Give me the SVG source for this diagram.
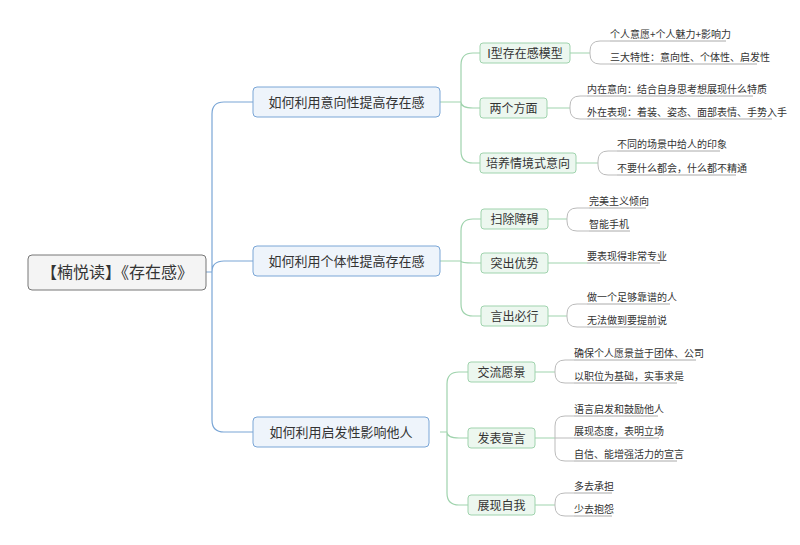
<svg xmlns="http://www.w3.org/2000/svg" width="800" height="545" viewBox="0 0 800 545">
<style>
text{font-family:"Noto Sans CJK SC","Liberation Sans",sans-serif;fill:#333}
.root rect{fill:#f4f4f4;stroke:#777;stroke-width:1}
.main rect{fill:#eef4fb;stroke:#7aa6d6;stroke-width:1}
.sub rect{fill:#ecf7ef;stroke:#9fd3ad;stroke-width:1}
.leaf line{stroke:#aaa;stroke-width:1}
.leaf text{font-size:10px}
.sub text{font-size:12px}
.main text{font-size:13px}
.c1{fill:none;stroke:#7aa6d6;stroke-width:1.2}
.c2{fill:none;stroke:#9fd3ad;stroke-width:1.2}
.c3{fill:none;stroke:#bbb;stroke-width:1}
</style>
<rect width="800" height="545" fill="#fff"/>
<g id="connectors">
<path class="c1" d="M206 272H212M212 272V114Q212 102 224 102H253M212 272Q212 261 224 261H253M212 272V420Q212 432 224 432H253"/>
<path class="c2" d="M440 102H461M461 102V65Q461 53 473 53H480M461 102Q461 108 473 108H480M461 102V151Q461 163 473 163H480"/>
<path class="c2" d="M440 261H461M461 261V231Q461 219 473 219H481M461 261Q461 263 473 263H481M461 261V304Q461 316 473 316H481"/>
<path class="c2" d="M440 432H447M447 432V384Q447 372 459 372H468M447 432Q447 438 459 438H468M447 432V493Q447 505 459 505H468"/>
<path class="c2" d="M570 53H590M547 108H570M576 163H598M548 219H567M548 263H587M548 316H567M535 372H555M535 438H555M535 505H555"/>
<path class="c3" d="M590 53V51Q590 41 600 41H610M590 53V54Q590 64 600 64H610"/>
<path class="c3" d="M570 108V106Q570 96 580 96H587M570 108V109Q570 119 580 119H587"/>
<path class="c3" d="M598 163V161Q598 151 608 151H617M598 163V165Q598 175 608 175H617"/>
<path class="c3" d="M567 219V218Q567 208 577 208H589M567 219V221Q567 231 577 231H589"/>
<path class="c3" d="M567 316V314Q567 304 577 304H587M567 316V317Q567 327 577 327H587"/>
<path class="c3" d="M555 372V370Q555 360 565 360H574M555 372V373Q555 383 565 383H574"/>
<path class="c3" d="M555 438V426Q555 416 565 416H574M555 438H574M555 438V451Q555 461 565 461H574"/>
<path class="c3" d="M555 505V503Q555 493 565 493H574M555 505V506Q555 516 565 516H574"/>
</g>
<g id="root" class="root"><rect x="28" y="255" width="178" height="35" rx="4"/><text x="117" y="278" font-size="16" text-anchor="middle">【楠悦读】《存在感》</text></g>
<g id="m1" class="main"><rect x="253" y="87" width="187" height="30" rx="4"/><text x="346.5" y="107" text-anchor="middle">如何利用意向性提高存在感</text></g>
<g id="m2" class="main"><rect x="253" y="246" width="187" height="30" rx="4"/><text x="346.5" y="266" text-anchor="middle">如何利用个体性提高存在感</text></g>
<g id="m3" class="main"><rect x="253" y="417" width="176" height="30" rx="4"/><text x="341" y="437" text-anchor="middle">如何利用启发性影响他人</text></g>
<g id="s11" class="sub"><rect x="480" y="43" width="90" height="20" rx="3"/><text x="525" y="57.5" text-anchor="middle">I型存在感模型</text></g>
<g id="s12" class="sub"><rect x="480" y="98" width="67" height="20" rx="3"/><text x="513.5" y="112.5" text-anchor="middle">两个方面</text></g>
<g id="s13" class="sub"><rect x="480" y="153" width="96" height="20" rx="3"/><text x="528" y="167.5" text-anchor="middle">培养情境式意向</text></g>
<g id="s21" class="sub"><rect x="481" y="209" width="67" height="20" rx="3"/><text x="514.5" y="223.5" text-anchor="middle">扫除障碍</text></g>
<g id="s22" class="sub"><rect x="481" y="253" width="67" height="20" rx="3"/><text x="514.5" y="267.5" text-anchor="middle">突出优势</text></g>
<g id="s23" class="sub"><rect x="481" y="306" width="67" height="20" rx="3"/><text x="514.5" y="320.5" text-anchor="middle">言出必行</text></g>
<g id="s31" class="sub"><rect x="468" y="362" width="67" height="20" rx="3"/><text x="501.5" y="376.5" text-anchor="middle">交流愿景</text></g>
<g id="s32" class="sub"><rect x="468" y="428" width="67" height="20" rx="3"/><text x="501.5" y="442.5" text-anchor="middle">发表宣言</text></g>
<g id="s33" class="sub"><rect x="468" y="495" width="67" height="20" rx="3"/><text x="501.5" y="509.5" text-anchor="middle">展现自我</text></g>
<g id="l111" class="leaf"><text x="610" y="38">个人意愿+个人魅力+影响力</text><line x1="610" y1="41" x2="726" y2="41"/></g>
<g id="l112" class="leaf"><text x="610" y="61">三大特性：意向性、个体性、启发性</text><line x1="610" y1="64" x2="757" y2="64"/></g>
<g id="l121" class="leaf"><text x="587" y="93">内在意向：结合自身思考想展现什么特质</text><line x1="587" y1="96" x2="753" y2="96"/></g>
<g id="l122" class="leaf"><text x="587" y="116">外在表现：着装、姿态、面部表情、手势入手</text><line x1="587" y1="119" x2="772" y2="119"/></g>
<g id="l131" class="leaf"><text x="617" y="148">不同的场景中给人的印象</text><line x1="617" y1="151" x2="720" y2="151"/></g>
<g id="l132" class="leaf"><text x="617" y="172">不要什么都会，什么都不精通</text><line x1="617" y1="175" x2="736" y2="175"/></g>
<g id="l211" class="leaf"><text x="589" y="205">完美主义倾向</text><line x1="589" y1="208" x2="646" y2="208"/></g>
<g id="l212" class="leaf"><text x="589" y="228">智能手机</text><line x1="589" y1="231" x2="630" y2="231"/></g>
<g id="l221" class="leaf"><text x="587" y="260">要表现得非常专业</text><line x1="587" y1="263" x2="660" y2="263"/></g>
<g id="l231" class="leaf"><text x="587" y="301">做一个足够靠谱的人</text><line x1="587" y1="304" x2="670" y2="304"/></g>
<g id="l232" class="leaf"><text x="587" y="324">无法做到要提前说</text><line x1="587" y1="327" x2="660" y2="327"/></g>
<g id="l311" class="leaf"><text x="574" y="357">确保个人愿景益于团体、公司</text><line x1="574" y1="360" x2="696" y2="360"/></g>
<g id="l312" class="leaf"><text x="574" y="380">以职位为基础，实事求是</text><line x1="574" y1="383" x2="677" y2="383"/></g>
<g id="l321" class="leaf"><text x="574" y="413">语言启发和鼓励他人</text><line x1="574" y1="416" x2="658" y2="416"/></g>
<g id="l322" class="leaf"><text x="574" y="435">展现态度，表明立场</text><line x1="574" y1="438" x2="659" y2="438"/></g>
<g id="l323" class="leaf"><text x="574" y="458">自信、能增强活力的宣言</text><line x1="574" y1="461" x2="677" y2="461"/></g>
<g id="l331" class="leaf"><text x="574" y="490">多去承担</text><line x1="574" y1="493" x2="612" y2="493"/></g>
<g id="l332" class="leaf"><text x="574" y="513">少去抱怨</text><line x1="574" y1="516" x2="612" y2="516"/></g>
</svg>
